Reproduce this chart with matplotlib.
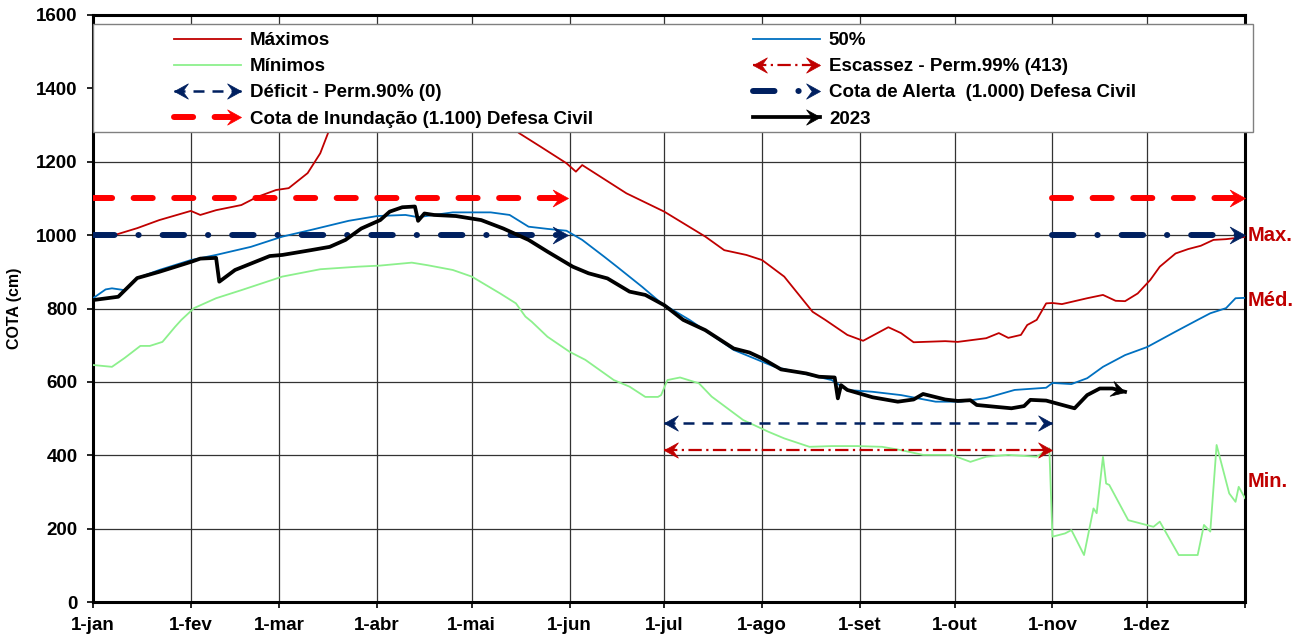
import matplotlib
matplotlib.use("Agg")
from matplotlib import pyplot as plt
import matplotlib.patches as mpatches
from matplotlib.lines import Line2D
from matplotlib.path import Path
from matplotlib.markers import MarkerStyle
from matplotlib.transforms import Affine2D
from matplotlib.legend_handler import HandlerBase

plt.rcParams['font.family'] = ['Liberation Sans', 'DejaVu Sans']
plt.rcParams['font.weight'] = 'bold'

# dias do ano (0 = 1-jan) e cotas em cm
dias_max = [0, 6, 14, 21, 31, 34, 39, 47, 52, 58, 62, 68, 72, 75, 85, 100, 115, 128, 135, 142,
            150, 153, 155, 169, 181, 194, 200, 207, 212, 219, 228, 232, 239, 244, 252, 256, 260,
            270, 274, 283, 287, 290, 294, 296, 299, 302, 304, 307, 315, 320, 324, 327, 331, 335,
            338, 343, 347, 351, 355, 359, 365]
cota_max = [995, 998, 1019, 1041, 1066, 1055, 1068, 1082, 1104, 1123, 1128, 1169, 1223, 1290, 1400,
            1460, 1420, 1340, 1278, 1240, 1196, 1173, 1191, 1114, 1064, 996, 959, 946, 932, 887,
            791, 769, 728, 712, 749, 733, 708, 711, 709, 719, 733, 720, 728, 755, 769, 814, 815,
            812, 828, 837, 821, 820, 841, 878, 914, 950, 962, 971, 987, 989, 995]

dias_med = [0, 4, 6, 10, 14, 21, 31, 39, 50, 60, 69, 81, 90, 99, 103, 114, 126, 132, 138, 144, 150,
            155, 162, 166, 174, 180, 189, 203, 216, 234, 239, 247, 256, 267, 275, 283, 292, 302,
            304, 310, 315, 320, 327, 334, 343, 350, 354, 359, 362, 365]
cota_med = [828, 852, 855, 850, 883, 905, 932, 946, 968, 996, 1014, 1039, 1052, 1055, 1049, 1062,
            1062, 1055, 1023, 1017, 1012, 987, 941, 914, 859, 815, 769, 687, 641, 605, 578, 573,
            564, 546, 546, 556, 578, 584, 597, 594, 610, 641, 673, 695, 737, 769, 787, 801, 828, 829]

dias_min = [0, 6, 10, 15, 18, 22, 26, 28, 32, 39, 47, 60, 72, 84, 91, 101, 106, 114, 120, 129, 134,
            137, 139, 144, 151, 156, 165, 170, 175, 179, 180, 182, 186, 192, 196, 206, 214, 219,
            227, 234, 242, 250, 256, 263, 272, 278, 283, 290, 299, 303, 304, 308, 310, 314, 317,
            318, 320, 321, 322, 328, 332, 336, 338, 344, 350, 352, 354, 356, 360, 362, 363, 365]
cota_min = [646, 641, 665, 698, 698, 709, 750, 769, 801, 828, 850, 887, 907, 914, 917, 925, 918, 905,
            887, 841, 814, 778, 764, 723, 682, 660, 605, 587, 559, 559, 564, 605, 612, 596, 560, 496,
            464, 446, 423, 425, 425, 423, 414, 401, 401, 382, 396, 401, 396, 419, 178, 187, 196, 128,
            255, 242, 396, 323, 319, 223, 214, 205, 219, 128, 128, 210, 192, 428, 296, 273, 314, 283]

dias_2023 = [0, 8, 14, 21, 31, 34, 39, 40, 45, 56, 60, 69, 75, 80, 85, 91, 94, 98, 102, 103, 105,
             108, 115, 123, 130, 138, 144, 152, 157, 163, 170, 175, 181, 187, 194, 203, 208, 212,
             218, 226, 230, 235, 236, 237, 239, 247, 255, 260, 263, 270, 274, 278, 280, 286, 291,
             295, 297, 302, 311, 315, 319, 323, 327]
cota_2023 = [823, 832, 883, 900, 927, 936, 938, 873, 905, 943, 946, 959, 968, 987, 1018, 1041, 1064,
             1076, 1078, 1039, 1059, 1055, 1052, 1041, 1018, 987, 955, 914, 896, 882, 846, 837, 809,
             769, 741, 691, 680, 664, 634, 623, 614, 612, 555, 591, 578, 558, 546, 552, 567, 552,
             548, 550, 537, 532, 528, 534, 551, 549, 528, 564, 582, 582, 573]

# cotas de referencia e trechos onde aparecem
cota_inundacao = 1100
cota_alerta = 1000
cota_deficit = 489
cota_escassez = 413
trechos_defesa = [(0, 150.5), (304, 365)]
trecho_seca = (181, 304)

dias_mes = [0, 31, 59, 90, 120, 151, 181, 212, 243, 273, 304, 334, 365]
meses = ['1-jan', '1-fev', '1-mar', '1-abr', '1-mai', '1-jun', '1-jul', '1-ago', '1-set',
         '1-out', '1-nov', '1-dez', '']

ponta = Path([(0, 0), (-1, 0.55), (-0.6, 0), (-1, -0.55), (0, 0)],
             [Path.MOVETO, Path.LINETO, Path.LINETO, Path.LINETO, Path.CLOSEPOLY])


def seta(angulo=0):
    return MarkerStyle(ponta, transform=Affine2D().rotate_deg(angulo))


class Seta(HandlerBase):
    def __init__(self, dois_lados=False, tam=20):
        super().__init__()
        self.dois_lados = dois_lados
        self.tam = tam

    def create_artists(self, legend, orig, xdescent, ydescent, width, height, fontsize, trans):
        y = height / 2 - ydescent
        x0, x1 = -xdescent, width - xdescent
        linha = Line2D([x0, x1], [y, y])
        linha.update_from(orig)
        linha.set_data([x0, x1], [y, y])
        linha.set_transform(trans)
        cor = orig.get_color()
        out = [linha]
        lados = [(x1, 0)] + ([(x0, 180)] if self.dois_lados else [])
        for xp, ang in lados:
            p = Line2D([xp], [y], ls='None', marker=seta(ang), ms=self.tam, color=cor, mec=cor, mew=0.5)
            p.set_transform(trans)
            out.append(p)
        return out


fig = plt.figure(figsize=(13.09, 6.41), dpi=100)
ax = fig.add_axes([0.07105, 0.06084, 0.88006, 0.91576])

h_max, = ax.plot(dias_max, cota_max, color='#C00000', lw=1.3, zorder=3)
h_med, = ax.plot(dias_med, cota_med, color='#0070C0', lw=1.3, zorder=3)
h_min, = ax.plot(dias_min, cota_min, color='#8CF08C', lw=1.3, zorder=3)

for a, b in trechos_defesa:
    h_inu, = ax.plot([a, b], [cota_inundacao, cota_inundacao], color='#FF0000', lw=4.3,
                     ls=(0, (3.2, 3.6)), dash_capstyle='round', zorder=4)
    ax.plot([b], [cota_inundacao], ls='None', marker=seta(0), ms=22, color='#FF0000',
            mew=0.5, clip_on=False, zorder=5)
    h_ale, = ax.plot([a, b], [cota_alerta, cota_alerta], color='#002060', lw=4.3,
                     ls=(0, (3.6, 4.0, 0.05, 4.0)), dash_capstyle='round', zorder=4)
    ax.plot([b], [cota_alerta], ls='None', marker=seta(0), ms=22, color='#002060',
            mew=0.5, clip_on=False, zorder=5)

a, b = trecho_seca
h_def, = ax.plot([a, b], [cota_deficit, cota_deficit], color='#002060', lw=1.8,
                 ls=(0, (4.4, 3.2)), zorder=4)
h_esc, = ax.plot([a, b], [cota_escassez, cota_escassez], color='#C00000', lw=1.6,
                 ls=(0, (6.0, 2.0, 1.0, 2.0)), zorder=4)
for cota, cor in [(cota_deficit, '#002060'), (cota_escassez, '#C00000')]:
    ax.plot([b], [cota], ls='None', marker=seta(0), ms=20, color=cor, mew=0.5, zorder=5)
    ax.plot([a], [cota], ls='None', marker=seta(180), ms=20, color=cor, mew=0.5, zorder=5)

h_23, = ax.plot(dias_2023, cota_2023, color='black', lw=2.7, zorder=6)
ax.plot([dias_2023[-1]], [cota_2023[-1]], ls='None', marker=seta(-15), ms=20, color='black',
        mew=0.5, zorder=6)

ax.set_xlim(0, 365)
ax.set_ylim(0, 1600)
ax.set_xticks(dias_mes)
ax.set_xticklabels(meses)
ax.set_yticks(range(0, 1601, 200))
ax.tick_params(axis='both', labelsize=13.5, length=4, width=1.2, direction='out')
ax.tick_params(axis='x', pad=7)
ax.tick_params(axis='y', pad=7)
ax.set_ylabel('COTA (cm)', fontsize=11.5, fontweight='bold', labelpad=10)
ax.grid(True, color='#333333', lw=0.9)
ax.set_axisbelow(True)
for lado in ['left', 'bottom', 'right', 'top']:
    ax.spines[lado].set_linewidth(2.2)

for cota, txt in [(1000, 'Max.'), (823, 'Méd.'), (328, 'Min.')]:
    ax.text(365.8, cota, txt, color='#C00000', fontsize=14.5, fontweight='bold',
            va='center', ha='left', clip_on=False)

# caixa da legenda por cima do grafico
fig.add_artist(mpatches.Rectangle((0.0710, 0.7941), 0.8862, 0.1685, transform=fig.transFigure,
                                  facecolor='white', edgecolor='#808080', lw=1, zorder=3))

mapa = {h_def: Seta(True), h_inu: Seta(), h_esc: Seta(True), h_ale: Seta(), h_23: Seta()}
prop = {'weight': 'bold', 'size': 13.5}
estilo = dict(loc='upper left', frameon=False, borderpad=0, borderaxespad=0,
              handlelength=3.57, handletextpad=0.48, labelspacing=0.48, prop=prop,
              handler_map=mapa)
fig.legend([h_max, h_min, h_def, h_inu],
           ['Máximos', 'Mínimos', 'Déficit - Perm.90% (0)', 'Cota de Inundação (1.100) Defesa Civil'],
           bbox_to_anchor=(174 / 1309, 1 - 32 / 641), **estilo)
fig.legend([h_med, h_esc, h_ale, h_23],
           ['50%', 'Escassez - Perm.99% (413)', 'Cota de Alerta  (1.000) Defesa Civil', '2023'],
           bbox_to_anchor=(753 / 1309, 1 - 32 / 641), **estilo)

fig.savefig('out.png', dpi=100)
